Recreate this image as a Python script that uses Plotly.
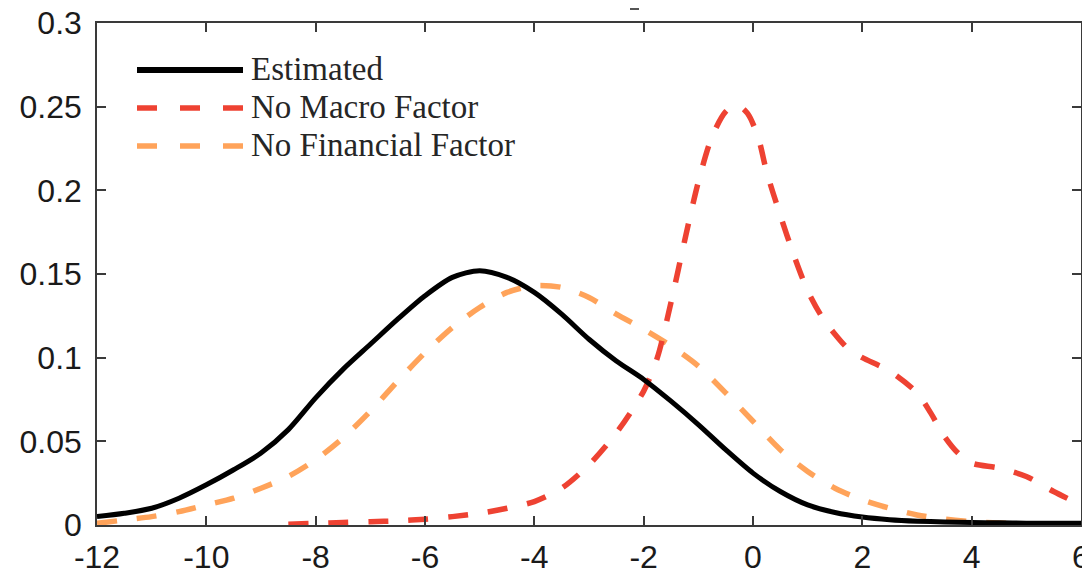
import plotly.graph_objects as go

# ---- data ----
est_x = [-12, -11.5, -11, -10.5, -10, -9.5, -9, -8.5, -8, -7.5, -7, -6.5, -6, -5.5, -5,
         -4.5, -4, -3.5, -3, -2.5, -2, -1.5, -1, -0.5, 0, 0.5, 1, 1.5, 2, 2.5, 3, 3.5,
         4, 4.5, 5, 5.5, 6]
est_y = [0.005, 0.007, 0.010, 0.016, 0.024, 0.033, 0.043, 0.057, 0.076, 0.093, 0.108,
         0.123, 0.137, 0.148, 0.152, 0.148, 0.139, 0.126, 0.111, 0.098, 0.087, 0.074,
         0.060, 0.045, 0.031, 0.020, 0.012, 0.0075, 0.0048, 0.0032, 0.0023, 0.0018,
         0.0015, 0.0013, 0.0011, 0.001, 0.001]

nomacro_x = [-8.5, -8, -7.5, -7, -6.5, -6, -5.5, -5, -4.5, -4, -3.5, -3, -2.5, -2, -1.75,
             -1.5, -1.25, -1, -0.75, -0.5, -0.3, -0.1, 0.1, 0.25, 0.5, 0.75, 1, 1.25,
             1.5, 1.75, 2, 2.5, 3, 3.25, 3.5, 3.75, 4, 4.5, 5, 5.5, 6]
nomacro_y = [0.0005, 0.001, 0.0015, 0.002, 0.0025, 0.0035, 0.005, 0.007, 0.010, 0.014,
             0.022, 0.036, 0.055, 0.080, 0.100, 0.133, 0.170, 0.205, 0.232, 0.247,
             0.251, 0.246, 0.231, 0.211, 0.185, 0.161, 0.140, 0.125, 0.114, 0.105,
             0.100, 0.092, 0.079, 0.067, 0.053, 0.043, 0.037, 0.034, 0.029, 0.020, 0.012]

nofin_x = [-12, -11.5, -11, -10.5, -10, -9.5, -9, -8.5, -8, -7.5, -7, -6.5, -6, -5.5, -5,
           -4.5, -4, -3.5, -3, -2.5, -2, -1.5, -1, -0.5, 0, 0.5, 1, 1.5, 2, 2.5, 3, 3.5,
           4, 4.5, 5, 5.5, 6]
nofin_y = [0.001, 0.003, 0.005, 0.008, 0.012, 0.016, 0.022, 0.029, 0.039, 0.052, 0.068,
           0.086, 0.103, 0.118, 0.130, 0.139, 0.143, 0.142, 0.136, 0.126, 0.117, 0.107,
           0.095, 0.079, 0.062, 0.045, 0.032, 0.022, 0.015, 0.010, 0.006, 0.0035, 0.002,
           0.0012, 0.0008, 0.0006, 0.0005]

series_names = ["Estimated", "No Macro Factor", "No Financial Factor"]
x_ticks = [-12, -10, -8, -6, -4, -2, 0, 2, 4, 6]
x_ticktext = ["-12", "-10", "-8", "-6", "-4", "-2", "0", "2", "4", "6"]
y_ticks = [0, 0.05, 0.1, 0.15, 0.2, 0.25, 0.3]
y_ticktext = ["0", "0.05", "0.1", "0.15", "0.2", "0.25", "0.3"]

BLACK = "#000000"
RED = "rgb(238,66,50)"
ORANGE = "rgb(255,163,90)"

fig = go.Figure()
fig.add_trace(go.Scatter(x=nofin_x, y=nofin_y, mode="lines", name=series_names[2],
                         line=dict(color=ORANGE, width=5.5, dash="20px,20px", shape="spline", smoothing=0.8),
                         showlegend=False))
fig.add_trace(go.Scatter(x=nomacro_x, y=nomacro_y, mode="lines", name=series_names[1],
                         line=dict(color=RED, width=5.5, dash="20px,20px", shape="spline", smoothing=0.8),
                         showlegend=False))
fig.add_trace(go.Scatter(x=est_x, y=est_y, mode="lines", name=series_names[0],
                         line=dict(color=BLACK, width=5, shape="spline", smoothing=0.8),
                         showlegend=False))

# ---- geometry (page has an 8px body margin) ----
OFF = 8
W, H = 1090 - OFF, 575 - OFF
PLOT_L, PLOT_R, PLOT_T, PLOT_B = 97, 1081, 23, 525   # target page pixels
L = PLOT_L - OFF
T = PLOT_T - OFF
R = W - (PLOT_R - OFF)
B = H - (PLOT_B - OFF)
pw, ph = PLOT_R - PLOT_L, PLOT_B - PLOT_T

def px2paper_x(px):
    return (px - PLOT_L) / pw

def px2paper_y(py):
    return (PLOT_B - py) / ph

legend_rows = [(series_names[0], BLACK, "solid", 6, 70),
               (series_names[1], RED, "20px,23px", 5.5, 108),
               (series_names[2], ORANGE, "20px,23px", 5.5, 146)]
for name, col, dash, lw, ypx in legend_rows:
    yp = px2paper_y(ypx)
    fig.add_shape(type="line", xref="paper", yref="paper",
                  x0=px2paper_x(137), x1=px2paper_x(243), y0=yp, y1=yp,
                  line=dict(color=col, width=lw, dash=dash))
    fig.add_annotation(xref="paper", yref="paper", x=px2paper_x(249), y=px2paper_y(ypx - 1),
                       text=name, showarrow=False, xanchor="left", yanchor="middle",
                       font=dict(family="Liberation Serif", size=33, color="#262626"))

# small mark above the frame (remnant of a cropped title)
fig.add_shape(type="line", xref="paper", yref="paper",
              x0=px2paper_x(630), x1=px2paper_x(639), y0=px2paper_y(9), y1=px2paper_y(9),
              line=dict(color="#555555", width=2))

axis_common = dict(showline=True, linecolor="#3a3a3a", linewidth=1.5, mirror="ticks",
                   ticks="inside", ticklen=9, tickwidth=1.5, tickcolor="#3a3a3a",
                   showgrid=False, zeroline=False, automargin=False,
                   ticklabeloverflow="allow",
                   tickfont=dict(family="Liberation Sans", size=32, color="#1a1a1a"))

fig.update_xaxes(range=[-12, 6], tickvals=x_ticks, ticktext=x_ticktext,
                 ticklabelstandoff=3, **axis_common)
fig.update_yaxes(range=[0, 0.3], tickvals=y_ticks, ticktext=y_ticktext,
                 ticklabelstandoff=7, **axis_common)

fig.update_layout(width=W, height=H, margin=dict(l=L, r=R, t=T, b=B, autoexpand=False),
                  paper_bgcolor="white", plot_bgcolor="white", showlegend=False)

fig.write_html("out.html")
